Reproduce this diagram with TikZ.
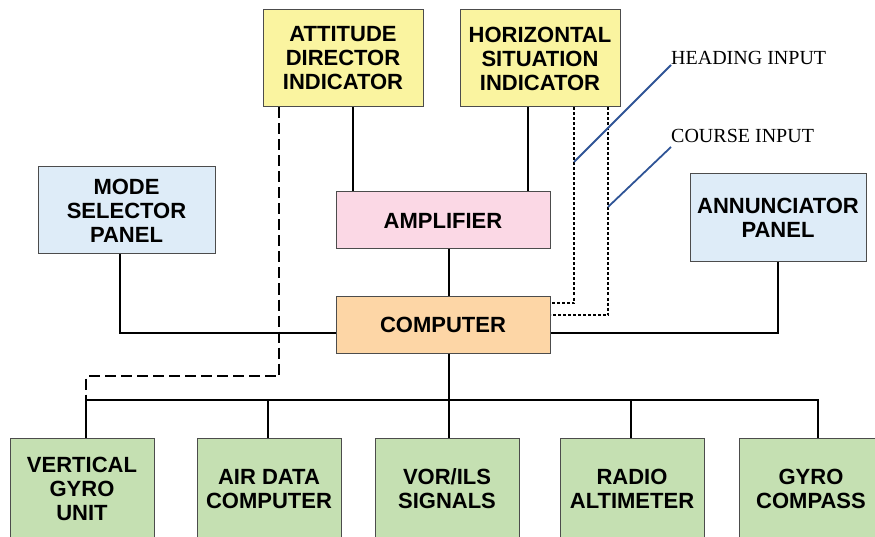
\documentclass[tikz,border=0pt]{standalone}
\usepackage{fontspec}
\setmainfont{Liberation Serif}
\newfontfamily\boxfont{Liberation Sans}
\usetikzlibrary{positioning}
\definecolor{indyellow}{RGB}{250,244,160}
\definecolor{amppink}{RGB}{251,216,229}
\definecolor{panelblue}{RGB}{222,236,248}
\definecolor{comporange}{RGB}{253,214,166}
\definecolor{sensgreen}{RGB}{197,224,178}
\definecolor{inblue}{RGB}{47,84,150}
\tikzset{
  blk/.style={draw=black!70,line width=1pt,inner sep=0pt,align=center,
    font=\boxfont\bfseries\fontsize{22}{24}\selectfont},
  sensor/.style={blk,fill=sensgreen,minimum width=144,minimum height=102},
  wire/.style={line width=2pt},
  fbline/.style={line width=2pt,dash pattern=on 11pt off 5pt},
  sigline/.style={line width=2.2pt,dash pattern=on 3pt off 2pt},
  inlabel/.style={font=\fontsize{20}{21}\selectfont,inner sep=0pt,anchor=base west},
}
\begin{document}
\begin{tikzpicture}[x=1pt,y=-1pt]
\useasboundingbox (0,0) rectangle (875,537);
\clip (0,0) rectangle (875,537);
% indicators
\node[blk,fill=indyellow,minimum width=160,minimum height=97] (adi) at (343,58.5){ATTITUDE\\DIRECTOR\\INDICATOR};
\node[blk,fill=indyellow,minimum width=160,minimum height=97] (hsi) at (540,58.5){HORIZONTAL\\SITUATION\\INDICATOR};
% panels, amplifier and computer
\node[blk,fill=panelblue,minimum width=177,minimum height=87] (msp) at (126.5,210.5){MODE\\SELECTOR\\PANEL};
\node[blk,fill=amppink,minimum width=214,minimum height=57] (amp) at (443,220.5){AMPLIFIER};
\node[blk,fill=panelblue,minimum width=176,minimum height=88] (ann) at (778,218){ANNUNCIATOR\\PANEL};
\node[blk,fill=comporange,minimum width=214,minimum height=57] (comp) at (443,324.5){COMPUTER};
% sensors
\node[sensor] (vgu) at (82,489){VERTICAL\\GYRO\\UNIT};
\node[sensor] (adc) at (269,489){AIR DATA\\COMPUTER};
\node[sensor] (vor) at (447,489){VOR/ILS\\SIGNALS};
\node[sensor] (ralt) at (632,489){RADIO\\ALTIMETER};
\node[sensor] (gyro) at (811,489){GYRO\\COMPASS};
% input labels
\node[inlabel] (hdglbl) at (671,65){HEADING INPUT};
\node[inlabel] (crslbl) at (671,143){COURSE INPUT};
% solid connections
\draw[wire] (353,0 |- adi.south) -- (353,0 |- amp.north);
\draw[wire] (528,0 |- hsi.south) -- (528,0 |- amp.north);
\draw[wire] (449,0 |- amp.south) -- (449,0 |- comp.north);
\draw[wire] (120,0 |- msp.south) |- (comp.west |- 0,333);
\draw[wire] (778,0 |- ann.south) |- (comp.east |- 0,333);
\coordinate (bus) at (449,400);
\draw[wire] (449,0 |- comp.south) -- (bus);
\draw[wire] (86,0 |- vgu.north) -- (86,400) -- (818,400) -- (818,0 |- gyro.north);
\foreach \xx/\to in {268/adc,449/vor,631/ralt}{
  \draw[wire] (\xx,400) -- (\xx,0 |- \to.north);
}
% feedback and signal lines
\draw[fbline] (279,0 |- adi.south) -- (279,376) -- (86,376) -- (86,400);
\draw[sigline] (574,0 |- hsi.south) |- (comp.east |- 0,303);
\draw[sigline] (608,0 |- hsi.south) |- (comp.east |- 0,315);
\coordinate (hdgin) at (574,162);
\coordinate (crsin) at (608,207);
\draw[inblue,line width=1.8pt] (hdgin) -- (hdglbl.base west);
\draw[inblue,line width=1.8pt] (crsin) -- ([yshift=-4pt]crslbl.base west);
\end{tikzpicture}
\end{document}
